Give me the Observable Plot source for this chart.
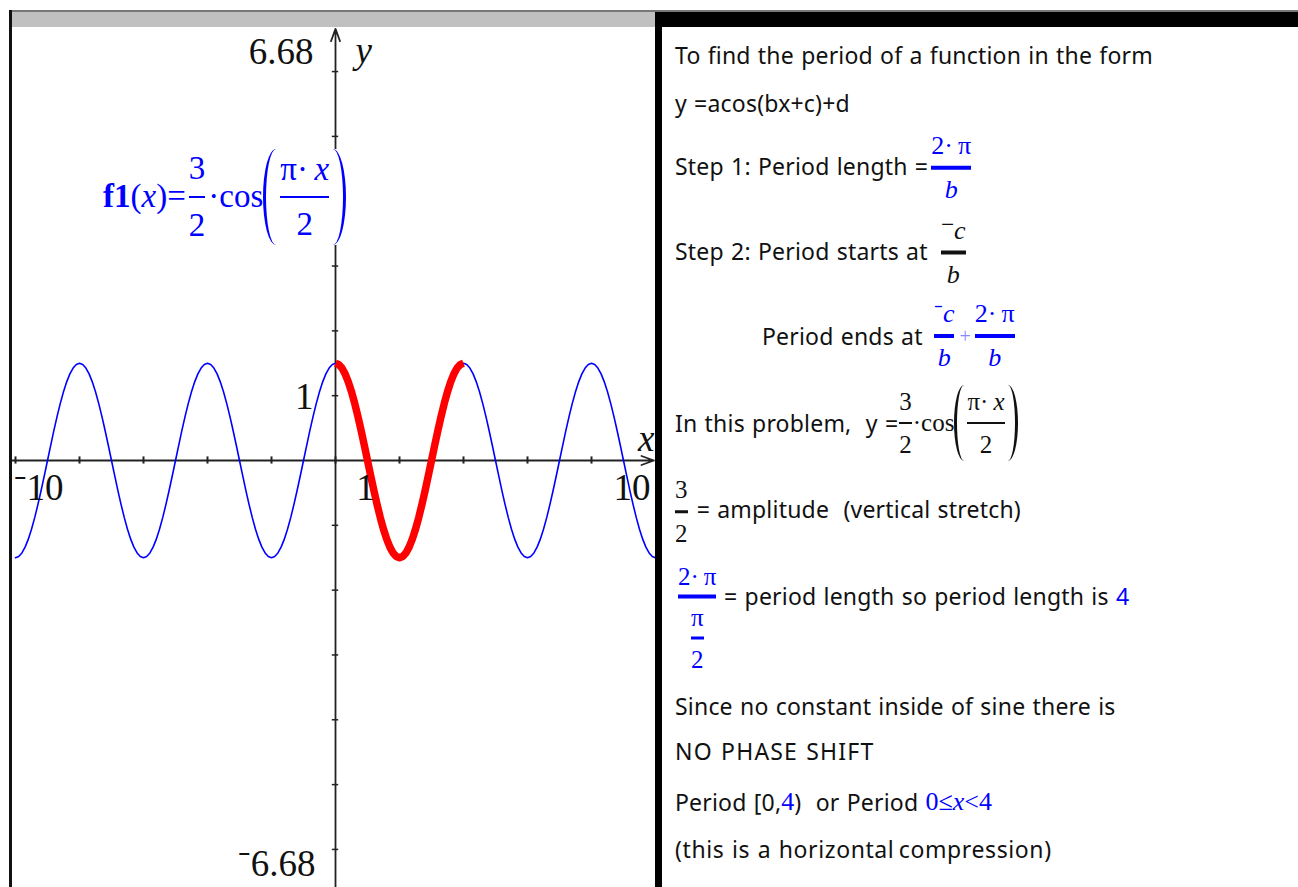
<!DOCTYPE html>
<html>
<head>
<meta charset="utf-8">
<script src="https://cdn.jsdelivr.net/npm/d3@7"></script>
<script src="https://cdn.jsdelivr.net/npm/@observablehq/plot@0.6"></script>
<style>
  html, body { margin: 0; padding: 0; background: #fff; width: 1298px; height: 887px; overflow: hidden; }
  #page { position: relative; width: 1298px; height: 887px; }
  .box { position: absolute; }
  #graph { position: absolute; left: 12px; top: 27px; width: 643px; height: 860px; overflow: hidden; }
  #graph svg { overflow: hidden; }
  .row { position: absolute; display: flex; align-items: center; white-space: pre; transform: translateY(-50%);
         font-family: "Noto Sans", sans-serif; font-size: 23px; letter-spacing: 0.2px; word-spacing: 1px;
         color: #111; line-height: 1.25; }
  .m { font-family: "Liberation Serif", serif; letter-spacing: 0; word-spacing: 0; }
  .frac { display: inline-flex; flex-direction: column; align-items: center; line-height: 1; }
  .frac .bar { align-self: stretch; }
  .blue { color: #0000ff; }
  .paren { display: inline-block; box-sizing: border-box; }
  .paren.l { border-left: 3px solid currentColor; border-radius: 100% 0 0 100% / 50% 0 0 50%; }
  .paren.r { border-right: 3px solid currentColor; border-radius: 0 100% 100% 0 / 0 50% 50% 0; }
  .neg { font-size: 0.9em; position: relative; top: -0.28em; }
</style>
</head>
<body>
<div id="page">
  <!-- window frame -->
  <div class="box" style="left:9px;top:10px;width:1289px;height:2px;background:#777"></div>
  <div class="box" style="left:12px;top:12px;width:643px;height:15px;background:#c0c0c0"></div>
  <div class="box" style="left:655px;top:12px;width:643px;height:15px;background:#000"></div>
  <div class="box" style="left:9px;top:10px;width:3px;height:877px;background:#111"></div>
  <div class="box" style="left:655px;top:12px;width:7px;height:875px;background:#000"></div>
  <div id="graph"></div>
</div>
<script>
// f1(x) = a·cos(b·x) with a = 3/2, b = π/2
const amplitude = 3 / 2;
const angularFreq = Math.PI / 2;
const periodLength = 4;                 // 2π / b
const periodRange = [0, 4];             // highlighted period [0, 4)
const xWindow = [-10, 10];
const yWindow = [-6.68, 6.68];
const xTicks = [-10, -8, -6, -4, -2, 0, 2, 4, 6, 8];
const yTicks = [-6, -5, -4, -3, -2, -1, 1, 2, 3, 4, 5, 6];
const sampleStep = 0.1;

const f1 = (x) => amplitude * Math.cos(angularFreq * x);
const sample = ([a, b]) => d3.range(a, b + 1e-9, sampleStep).map((x) => ({x, y: f1(x)}));
const curve = sample(xWindow);
const period = sample(periodRange);

const neg = (v) => (v < 0 ? "\u207B" : "") + Math.abs(v);
const serif = "Liberation Serif, serif";
const labelSize = 37;

const chart = Plot.plot({
  width: 643,
  height: 860,
  margin: 0,
  x: {domain: xWindow, range: [3, 643], axis: null},
  y: {domain: yWindow, range: [866, 0], axis: null},
  marks: [
    // axes through the origin
    Plot.arrow([0], {x1: -10.4, y1: 0, x2: 9.95, y2: 0, stroke: "#222", strokeWidth: 1.8, headLength: 11, headAngle: 40}),
    Plot.arrow([0], {x1: 0, y1: -7, x2: 0, y2: 6.66, stroke: "#222", strokeWidth: 1.8, headLength: 11, headAngle: 40}),
    Plot.ruleX(xTicks, {x: (d) => d, y1: -0.055, y2: 0.055, stroke: "#222", strokeWidth: 2}),
    Plot.ruleY(yTicks, {y: (d) => d, x1: -0.1, x2: 0.1, stroke: "#222", strokeWidth: 1.5}),
    // the function and its highlighted period
    Plot.line(curve, {x: "x", y: "y", stroke: "#0000ff", strokeWidth: 1.6}),
    Plot.line(period, {x: "x", y: "y", stroke: "#ff0000", strokeWidth: 7.5, strokeLinecap: "butt"}),
    // window and scale labels
    Plot.text([yWindow[1]], {x: 0, y: (d) => d, text: (d) => d.toFixed(2), textAnchor: "end", dx: -22, dy: 25, fontSize: labelSize, fontFamily: serif, fill: "#111"}),
    Plot.text([yWindow[0]], {x: 0, y: (d) => d, text: (d) => "\u207B" + Math.abs(d).toFixed(2), textAnchor: "end", dx: -20, dy: -29, fontSize: labelSize, fontFamily: serif, fill: "#111"}),
    Plot.text([xWindow[0]], {x: (d) => d, y: 0, text: neg, textAnchor: "start", dx: -2, dy: 28, fontSize: labelSize, fontFamily: serif, fill: "#111"}),
    Plot.text([xWindow[1]], {x: (d) => d, y: 0, text: neg, textAnchor: "end", dx: -5, dy: 28, fontSize: labelSize, fontFamily: serif, fill: "#111"}),
    Plot.text([1], {x: 0, y: (d) => d, text: (d) => String(d), textAnchor: "end", dx: -22, dy: 1, fontSize: labelSize, fontFamily: serif, fill: "#111"}),
    Plot.text([1], {x: (d) => d, y: 0, text: (d) => String(d), textAnchor: "middle", dx: -2, dy: 28, fontSize: labelSize, fontFamily: serif, fill: "#111"}),
    Plot.text(["x"], {x: xWindow[1], y: 0, text: (d) => d, textAnchor: "end", dx: -1, dy: -21, fontSize: labelSize, fontFamily: serif, fontStyle: "italic", fill: "#111"}),
    Plot.text(["y"], {x: 0, y: yWindow[1], text: (d) => d, textAnchor: "start", dx: 20, dy: 24, fontSize: labelSize, fontFamily: serif, fontStyle: "italic", fill: "#111"})
  ]
});
document.getElementById("graph").append(chart);

// ---- formula label and worked steps ----
const frac = (num, den, {bar = 2.5, pad = 1, gap = 6} = {}) =>
  `<span class="frac" style="padding:0 ${pad}px"><span style="margin-bottom:${gap}px">${num}</span>` +
  `<span class="bar" style="height:${bar}px;background:currentColor"></span><span style="margin-top:${gap}px">${den}</span></span>`;
const paren = (h, w) => [`<span class="paren l" style="height:${h}px;width:${w}px"></span>`, `<span class="paren r" style="height:${h}px;width:${w}px"></span>`];

const page = document.getElementById("page");
function row(left, center, html, style = "") {
  const el = document.createElement("div");
  el.className = "row";
  el.style.cssText = `left:${left}px;top:${center}px;${style}`;
  el.innerHTML = html;
  page.append(el);
}

const dotPi = "2\u00B7\u2009\u03C0";
const minusC = `<span class="neg">\u2212</span><i>c</i>`;
const [pl, pr] = paren(96, 13);
row(103, 197,
  `<span class="m blue" style="font-size:33px;display:flex;align-items:center;background:#fff;padding-right:2px">` +
  `<b>f1</b>(<i>x</i>)=${frac("3", "2", {bar: 2, pad: 3, gap: 11})}\u00B7cos${pl}${frac("\u03C0\u00B7\u2009<i>x</i>", "2", {bar: 2, pad: 4, gap: 10})}${pr}</span>`);

row(675, 55, "To find the period of a function in the form");
row(675, 103, "y =acos(bx+c)+d");
row(675, 166, `Step 1: Period length =<span class="m blue" style="font-size:26px">${frac(dotPi, "<i>b</i>", {bar: 3.5, pad: 3, gap: 7})}</span>`);
row(675, 251, `Step 2: Period starts at <span class="m" style="font-size:26px">${frac(minusC, "<i>b</i>", {bar: 4, pad: 6, gap: 7})}</span>`);
row(762, 336, `Period ends at <span class="m blue" style="font-size:26px;display:flex;align-items:center">${frac("\u207B<i>c</i>", "<i>b</i>", {bar: 4, pad: 4, gap: 7})}<span style="color:#88f;font-size:20px;margin:0 1px">+</span>${frac(dotPi, "<i>b</i>", {bar: 4, pad: 3, gap: 7})}</span>`);
const [sl, sr] = paren(76, 10);
row(675, 423, `In this problem,  y =<span class="m" style="font-size:25px;display:flex;align-items:center">${frac("3", "2", {bar: 2, gap: 8})}\u00B7cos${sl}${frac("\u03C0\u00B7\u2009<i>x</i>", "2", {bar: 2, pad: 3, gap: 8})}${sr}</span>`);
row(673, 510, `<span class="m" style="font-size:25px">${frac("3", "2", {bar: 2.5, pad: 2, gap: 8})}</span> = amplitude  (vertical stretch)`);
row(672, 616, `<span class="m blue" style="font-size:25px">${frac(dotPi, frac("\u03C0", "2", {bar: 3, pad: 2, gap: 7}), {bar: 4, pad: 6, gap: 6})}</span>`);
row(724, 596, `= period length so period length is <span class="blue">4</span>`);
row(675, 706, "Since no constant inside of sine there is");
row(675, 751, "NO PHASE SHIFT", "letter-spacing:1.2px");
row(675, 802, `Period [0,<span class="m blue" style="font-size:26px">4</span>)  or Period <span class="m blue" style="font-size:26px">0\u2264<i>x</i>&lt;4</span>`);
row(675, 849, "(this is a horizontal\u2009compression)", "letter-spacing:0.6px");
</script>
</body>
</html>
